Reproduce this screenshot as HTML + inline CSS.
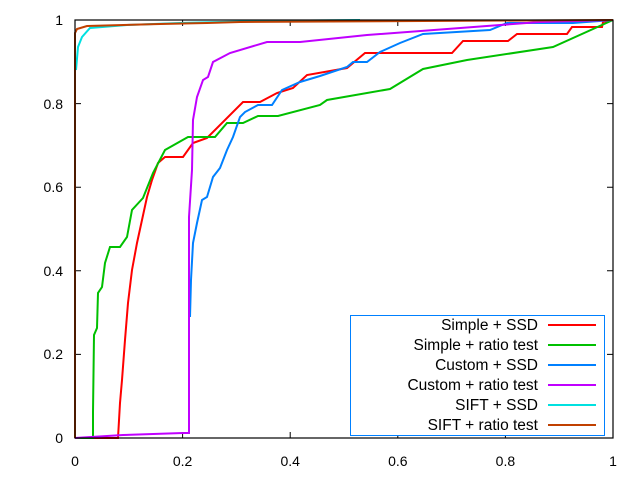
<!DOCTYPE html>
<html><head><style>body{margin:0;background:#fff}svg{display:block}text{font-family:"Liberation Sans",sans-serif;font-size:14px;fill:#000}.lg text{font-size:15.5px}</style></head><body>
<svg width="640" height="480" xmlns="http://www.w3.org/2000/svg">
<g stroke="#000" stroke-width="1">
<path d="M75,438v-6M182.6,438v-6M290.2,438v-6M397.8,438v-6M505.4,438v-6M613,438v-6M75,20v6M182.6,20v6M290.2,20v6M397.8,20v6M505.4,20v6M613,20v6"/>
<path d="M75,438h6M75,354.4h6M75,270.8h6M75,187.2h6M75,103.6h6M75,20h6M613,438h-6M613,354.4h-6M613,270.8h-6M613,187.2h-6M613,103.6h-6M613,20h-6"/>
</g>
<g text-anchor="end">
<text x="63" y="443">0</text><text x="63" y="359">0.2</text><text x="63" y="276">0.4</text><text x="63" y="192">0.6</text><text x="63" y="109">0.8</text><text x="63" y="25">1</text>
</g>
<g text-anchor="middle">
<text x="75" y="466">0</text><text x="182.6" y="466">0.2</text><text x="290.2" y="466">0.4</text><text x="397.8" y="466">0.6</text><text x="505.4" y="466">0.8</text><text x="613" y="466">1</text>
</g>
<g fill="none" stroke-width="2">
<polyline stroke="#ff0000" points="75,438 118,438 120,403 122,380 125,340 128,303 132,270 137,243 142,220 147,197 152,180 158,163 165,157 183,157 193,143 207,138 243,102 260,102 277,93 293,88 307,75 347,68 365,53 452,53 463,41 508,41 517,34 567,34 572,27 602,27 603,22 613,20"/>
<polyline stroke="#00c000" points="75,438 93,438 93,412 94,335 97,328 98,293 102,287 105,263 110,247 120,247 127,237 132,210 143,198 153,173 165,150 188,137 215,137 227,123 243,123 258,116 278,116 320,105 327,100 390,89 423,69 467,60 553,47 613,20"/>
<polyline stroke="#0080ff" points="190,317 191,280 193,243 197,223 202,200 207,197 213,177 220,168 227,150 233,137 240,117 245,112 258,105 272,105 282,90 300,82 320,76 347,67 353,62 367,62 380,52 400,43 423,34 490,30 507,23 573,23 613,20"/>
<polyline stroke="#c000ff" points="75,438 123,435 183,433 189,433 189,217 192,170 193,120 197,97 203,80 208,77 213,62 230,53 267,42 300,42 367,35 500,25 540,22 613,20"/>
<polyline stroke="#00e0e0" points="76,70 78,47 82,37 90,28 127,25 180,23 260,21 360,20"/>
<polyline stroke="#c04000" points="75,438 75,33 77,29 87,26 160,24 207,23 240,22 613,20"/>
</g>
<rect x="75" y="20" width="538" height="418" fill="none" stroke="#000" stroke-width="1.2"/>
<rect x="350.5" y="315.5" width="254" height="120" fill="#fff" stroke="#0080ff" stroke-width="1"/>
<g text-anchor="end" class="lg">
<text x="538" y="330">Simple + SSD</text>
<text x="538" y="350">Simple + ratio test</text>
<text x="538" y="370">Custom + SSD</text>
<text x="538" y="390">Custom + ratio test</text>
<text x="538" y="410">SIFT + SSD</text>
<text x="538" y="430">SIFT + ratio test</text>
</g>
<g stroke-width="2">
<line x1="548" y1="325" x2="596" y2="325" stroke="#ff0000"/>
<line x1="548" y1="345" x2="596" y2="345" stroke="#00c000"/>
<line x1="548" y1="365" x2="596" y2="365" stroke="#0080ff"/>
<line x1="548" y1="385" x2="596" y2="385" stroke="#c000ff"/>
<line x1="548" y1="405" x2="596" y2="405" stroke="#00e0e0"/>
<line x1="548" y1="425" x2="596" y2="425" stroke="#c04000"/>
</g>
</svg>
</body></html>
